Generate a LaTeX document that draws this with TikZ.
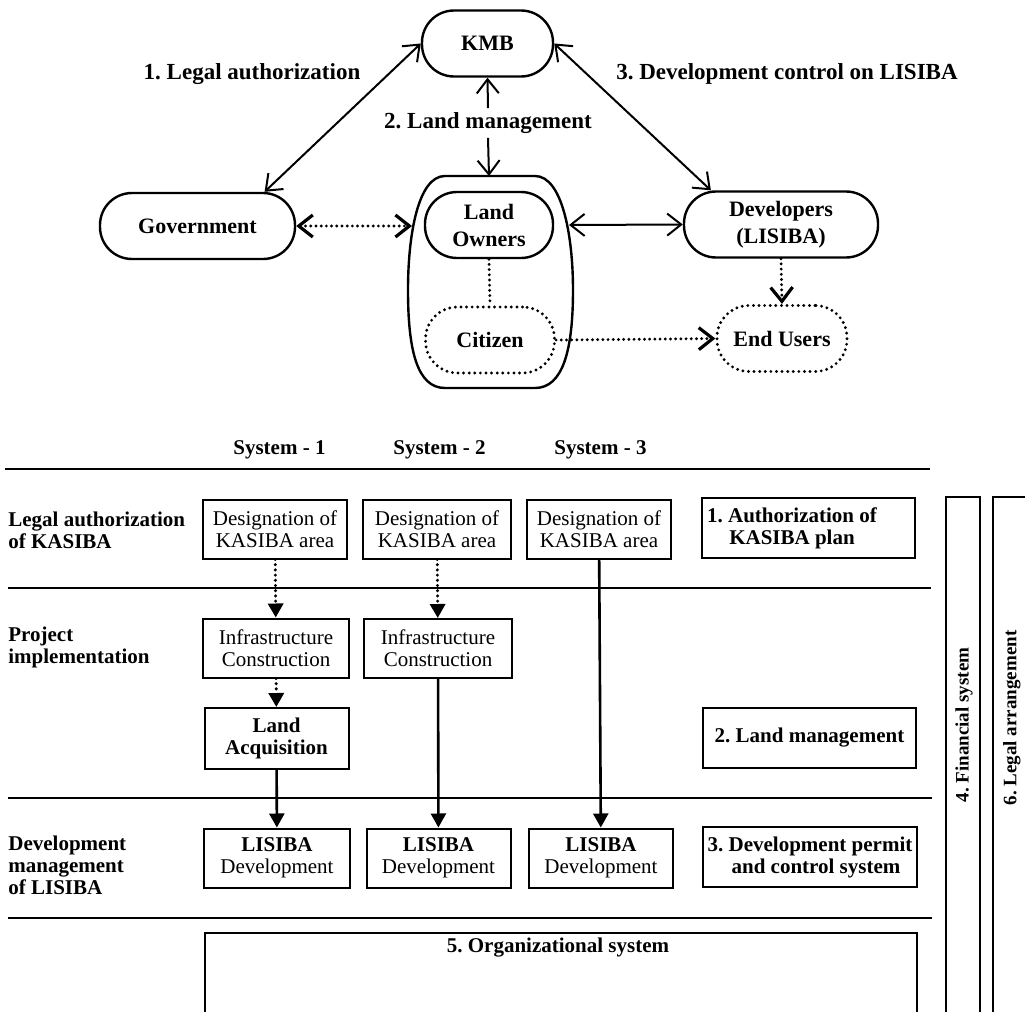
\documentclass[tikz,border=0pt]{standalone}
\usepackage{fontspec}
\setmainfont{Liberation Serif}
\usetikzlibrary{arrows.meta}

\tikzset{
  barb/.tip={Straight Barb[length=7pt,width=11pt]},
  tri/.tip={Triangle[length=7pt,width=7.5pt]}
}

\begin{document}
\frenchspacing
\begin{tikzpicture}[x=0.5pt,y=-0.5pt,
  topfont/.style={font=\fontsize{11}{13.5}\selectfont\bfseries},
  lowfont/.style={font=\fontsize{10.5}{11}\selectfont},
  actor/.style={draw, line width=1.2pt, rounded corners=16pt, minimum height=33pt, inner sep=0pt, align=center, topfont},
  dotactor/.style={actor, dash pattern=on 0pt off 2.8pt, line cap=round, line width=1.6pt},
  rel/.style={line width=1pt, barb-barb},
  dotrel/.style={rel, dash pattern=on 0pt off 2.6pt, line cap=round, line width=1.6pt},
  sysbox/.style={draw, line width=1pt, minimum width=72pt, minimum height=29.5pt, inner sep=1pt, align=center, lowfont},
  planbox/.style={sysbox, minimum width=106.5pt, minimum height=30pt},
  flow/.style={line width=1.3pt, -tri},
  dotflow/.style={flow, dash pattern=on 0pt off 2.6pt, line cap=round, line width=1.7pt},
  rowlabel/.style={anchor=west, align=left, inner sep=0pt, lowfont, font=\fontsize{10.5}{11}\selectfont\bfseries},
  barlabel/.style={rotate=90, font=\fontsize{9.5}{11}\selectfont\bfseries}
]
\useasboundingbox[fill=white] (0,0) rectangle (1025,1012);

% actors
\node[actor, minimum width=65.5pt] (kmb) at (487.5,43.5) {KMB};
\node[actor, minimum width=97.5pt] (gov) at (197.5,226) {Government};
\node[actor, minimum width=64pt] (own) at (489,225) {Land\\Owners};
\node[actor, minimum width=97pt] (dev) at (781,224.5) {Developers\\(LISIBA)};
\node[dotactor, minimum width=64.5pt] (cit) at (490,340) {Citizen};
\node[dotactor, minimum width=65pt] (eu) at (782,338.5) {End Users};

\draw[line width=1.2pt] (445,176) -- (535,176)
  .. controls (562,176) and (573,235) .. (573,290)
  .. controls (573,350) and (563,388) .. (535,388) -- (445,388)
  .. controls (417,388) and (408,350) .. (408,290)
  .. controls (408,235) and (418,176) .. (445,176) -- cycle;
\coordinate (ownW) at (412,226);
\coordinate (ownE) at (569,225);
\coordinate (ownN) at (489,176);

\node[topfont, font=\fontsize{11.5}{13.5}\selectfont\bfseries] (lglauth) at (252,74) {1. Legal authorization};
\node[topfont, font=\fontsize{11.5}{13.5}\selectfont\bfseries, inner xsep=0pt, inner ysep=2pt] (landmgt) at (488,123) {2. Land management};
\node[topfont, font=\fontsize{11.5}{13.5}\selectfont\bfseries] (devctrl) at (787,74) {3. Development control on LISIBA};

\draw[rel] (kmb.west) -- (gov.27);
\draw[rel] (kmb.east) -- (dev.154);
\draw[line width=1pt, -barb] (landmgt.north) -- (kmb.south);
\draw[line width=1pt, -barb] (landmgt.south) -- (ownN);
\draw[dotrel] (gov.east) -- (ownW);
\draw[rel] (ownE) -- (dev.west);
\draw[dotrel, -] (own.south) -- (cit.north);
\draw[dotrel, -barb] (dev.south) -- (eu.north);
\draw[dotrel, -barb] (cit.east) -- (eu.west);

% systems table
\node[rowlabel] (sys1) at (233,450) {System - 1};
\node[rowlabel] (sys2) at (393,450) {System - 2};
\node[rowlabel] (sys3) at (554,450) {System - 3};

\draw[line width=0.6pt] (5,469) -- (930,469);
\draw[line width=0.6pt] (8,588) -- (931,588);
\draw[line width=0.6pt] (8,798) -- (932,798);
\draw[line width=0.6pt] (8,918) -- (932,918);

\node[rowlabel] (row1) at (8,530) {Legal authorization\\of KASIBA};
\node[rowlabel] (row2) at (8,647) {Project\\implementation};
\node[rowlabel] (row3) at (8,865) {Development\\management\\of LISIBA};

\node[sysbox] (des1) at (275,529) {Designation of\\KASIBA area};
\node[sysbox, minimum width=74pt] (des2) at (437,529) {Designation of\\KASIBA area};
\node[sysbox] (des3) at (599,529) {Designation of\\KASIBA area};
\node[planbox] (auth) at (808.5,528) {};
\node[align=center, font=\fontsize{10.5}{11}\selectfont\bfseries] (authtxt) at (792,528) {1. Authorization of\\KASIBA plan};

\node[sysbox, minimum width=73pt] (inf1) at (276,648) {Infrastructure\\Construction};
\node[sysbox, minimum width=74pt] (inf2) at (438,648.5) {Infrastructure\\Construction};
\node[sysbox, minimum height=30.5pt, font=\fontsize{10.5}{11}\selectfont\bfseries] (acq1) at (276.5,738.5) {Land\\Acquisition};
\node[planbox, font=\fontsize{10.5}{11}\selectfont\bfseries] (landbox) at (809.5,737.5) {2. Land management};

\node[sysbox, minimum width=73pt] (lis1) at (277,858) {\textbf{LISIBA}\\Development};
\node[sysbox] (lis2) at (438.5,858) {\textbf{LISIBA}\\Development};
\node[sysbox] (lis3) at (601,858) {\textbf{LISIBA}\\Development};
\node[planbox, minimum width=107pt, font=\fontsize{10.5}{11}\selectfont\bfseries] (permit) at (810,857) {3. Development permit\\\hspace*{6pt}and control system};

\draw[dotflow] (des1) -- (inf1);
\draw[dotflow] (inf1) -- (acq1);
\draw[flow] (acq1) -- (lis1);
\draw[dotflow] (des2) -- (inf2);
\draw[flow] (inf2) -- (lis2);
\draw[flow] (des3) -- (lis3);

% cross-cutting systems
\draw[line width=1pt] (205,1012) |- (917,933) -- (917,1012);
\node[font=\fontsize{10.5}{11}\selectfont\bfseries] (orgsys) at (558,948) {5. Organizational system};
\draw[line width=1.3pt] (946,1012) |- (980,497) -- (980,1012);
\node[barlabel] (finsys) at (964,725) {4. Financial system};
\draw[line width=1.3pt] (993,1012) |- (1025,497);
\node[barlabel] (legarr) at (1012,718) {6. Legal arrangement};
\end{tikzpicture}
\end{document}
